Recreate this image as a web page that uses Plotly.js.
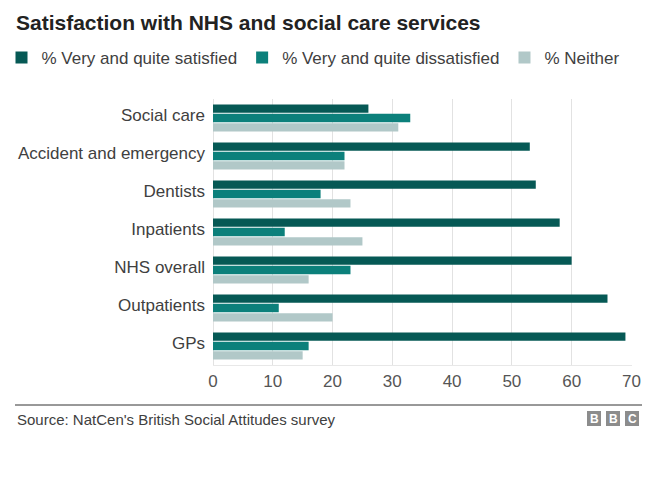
<!DOCTYPE html>
<html>
<head>
<meta charset="utf-8">
<script src="https://cdn.plot.ly/plotly-3.0.1.min.js"></script>
<style>
html,body{margin:0;padding:0;background:#fff;}
#chart{width:660px;height:478px;}
</style>
</head>
<body>
<div id="chart"></div>
<script>
const categories = ["Social care","Accident and emergency","Dentists","Inpatients","NHS overall","Outpatients","GPs"];
const satisfied    = [26, 53, 54, 58, 60, 66, 69];
const dissatisfied = [33, 22, 18, 12, 23, 11, 16];
const neither      = [31, 22, 23, 25, 16, 20, 15];
const seriesNames = ["% Very and quite satisfied", "% Very and quite dissatisfied", "% Neither"];
const xTicks = [0, 10, 20, 30, 40, 50, 60, 70];

const colors = ["#065955", "#0c807b", "#b1c8c8"];
const font = "Arial, 'Liberation Sans', Helvetica, sans-serif";

const traces = [satisfied, dissatisfied, neither].map((vals, i) => ({
  type: "bar",
  orientation: "h",
  name: seriesNames[i],
  y: categories,
  x: vals,
  marker: {color: colors[i]},
  hoverinfo: "x+name"
}));

// plot area in pixels
const L = 213, R = 632, T = 99, B = 365;
const W = R - L, H = B - T;
const px = x => (x - L) / W;
const py = y => (B - y) / H;

const layout = {
  width: 660, height: 478,
  margin: {l: L, r: 660 - R, t: T, b: 478 - B, autoexpand: false},
  paper_bgcolor: "#fff", plot_bgcolor: "#fff",
  font: {family: font, color: "#404040", size: 17},
  title: {text: "<b>Satisfaction with NHS and social care services</b>", x: 16/660, xanchor: "left", y: 1 - 23/478, yanchor: "middle",
          font: {family: font, size: 21, color: "#222"}},
  barmode: "group",
  bargap: 0.26,
  bargroupgap: 0.1,
  showlegend: true,
  legend: {orientation: "h", x: px(1.5), xanchor: "left", y: py(58), yanchor: "middle",
           traceorder: "normal", font: {family: font, size: 17, color: "#404040"}, itemwidth: 30},
  xaxis: {range: [0, 70.1], tickvals: xTicks, ticktext: xTicks.map(String), showgrid: true, gridcolor: "#e2e2e2",
          zeroline: true, zerolinecolor: "#e2e2e2", zerolinewidth: 1, showline: true, linecolor: "#e8e8e8", linewidth: 1,
          ticks: "", ticklabelstandoff: 1, tickfont: {size: 17, color: "#555"}, fixedrange: true},
  yaxis: {type: "category", autorange: "reversed", ticks: "", showgrid: false, zeroline: false, showline: false,
          ticklabelstandoff: 7, ticklabelshift: 3, tickfont: {size: 17, color: "#404040"}, fixedrange: true},
  shapes: [
    {type: "line", xref: "paper", yref: "paper", x0: px(15), x1: px(642), y0: py(405), y1: py(405), line: {color: "#333", width: 1}},
    {type: "rect", xref: "paper", yref: "paper", x0: px(587), x1: px(601), y0: py(426), y1: py(411), fillcolor: "#8c8c8c", line: {width: 0}},
    {type: "rect", xref: "paper", yref: "paper", x0: px(606), x1: px(620), y0: py(426), y1: py(411), fillcolor: "#8c8c8c", line: {width: 0}},
    {type: "rect", xref: "paper", yref: "paper", x0: px(625), x1: px(639), y0: py(426), y1: py(411), fillcolor: "#8c8c8c", line: {width: 0}}
  ],
  annotations: [
    {text: "Source: NatCen's British Social Attitudes survey", xref: "paper", yref: "paper", x: px(16), y: py(419.5),
     xanchor: "left", yanchor: "middle", xshift: -1, showarrow: false, font: {family: font, size: 15, color: "#404040"}},
    {text: "<b>B</b>", xref: "paper", yref: "paper", x: px(594), y: py(418.5), xanchor: "center", yanchor: "middle", showarrow: false, font: {family: font, size: 12, color: "#fff"}},
    {text: "<b>B</b>", xref: "paper", yref: "paper", x: px(613), y: py(418.5), xanchor: "center", yanchor: "middle", showarrow: false, font: {family: font, size: 12, color: "#fff"}},
    {text: "<b>C</b>", xref: "paper", yref: "paper", x: px(632), y: py(418.5), xanchor: "center", yanchor: "middle", showarrow: false, font: {family: font, size: 12, color: "#fff"}}
  ]
};

Plotly.newPlot("chart", traces, layout, {displayModeBar: false, staticPlot: true});
</script>
</body>
</html>
